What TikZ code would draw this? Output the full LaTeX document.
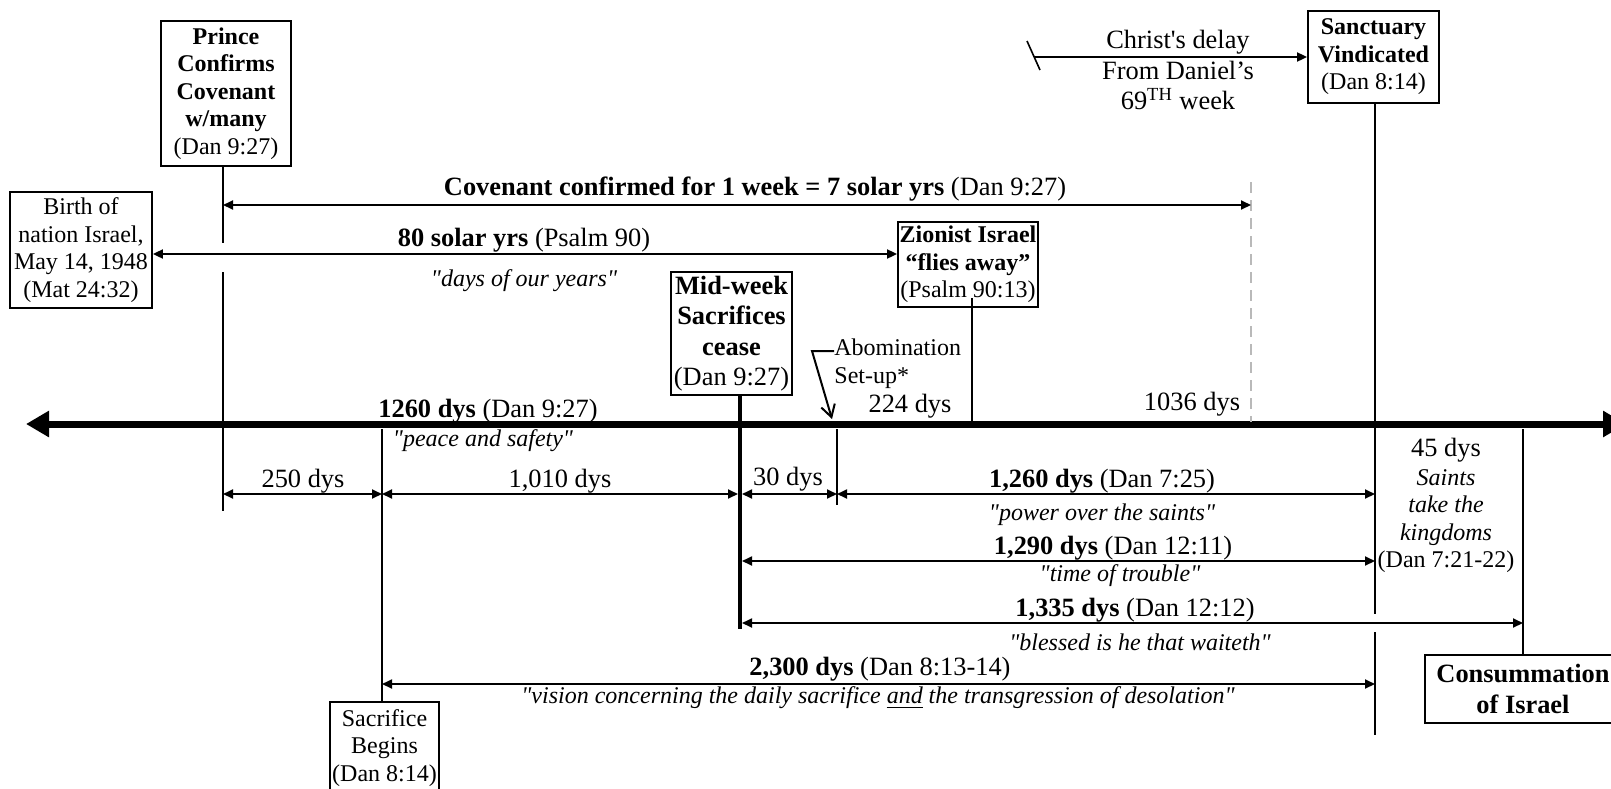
\documentclass[tikz,border=0pt]{standalone}
\usepackage{fontspec}
\setmainfont{Liberation Serif}
\newfontfamily\plainqf{Liberation Serif}
\usetikzlibrary{arrows.meta}
\newcommand{\myfa}{\fontsize{12}{13.8}\selectfont}
\newcommand{\myfb}{\fontsize{13.2}{15.2}\selectfont}
\newcommand{\dq}{{\plainqf"}}
\begin{document}
\begin{tikzpicture}[x=0.5pt,y=-0.5pt,
  txt/.style={inner sep=0pt, align=center, font=\myfb},
  stxt/.style={inner sep=0pt, align=center, font=\myfa},
  itxt/.style={inner sep=0pt, align=center, font=\myfa\itshape},
  box/.style={draw, line width=0.9pt, inner sep=0pt, align=center, font=\myfa},
  ln/.style={line width=0.8pt},
  dim/.style={line width=0.9pt, {Triangle[length=5pt,width=4.5pt]}-{Triangle[length=5pt,width=4.5pt]}},
  oneway/.style={line width=0.9pt, -{Triangle[length=5pt,width=4.5pt]}},
  axisline/.style={line width=3.5pt, {Triangle[length=11.5pt,width=12.5pt]}-{Triangle[length=11.5pt,width=12.5pt]}},
  gdash/.style={line width=0.8pt, gray!55, dash pattern=on 5.5pt off 3.5pt},
  thickv/.style={line width=2.2pt},
]
\useasboundingbox (0,0) rectangle (1611,788);

% boxes
\node[box, minimum width=65pt, minimum height=72.5pt] (prince) at (226,93.5)
  {\textbf{Prince}\\\textbf{Confirms}\\\textbf{Covenant}\\\textbf{w/many}\\(Dan 9:27)};
\node[box, minimum width=71pt, minimum height=58pt] (birth) at (81,250)
  {Birth of\\nation Israel,\\May 14, 1948\\(Mat 24:32)};
\node[box, minimum width=70pt, minimum height=42.5pt] (zion) at (968,264.5)
  {\textbf{Zionist Israel}\\\textbf{“flies away”}\\(Psalm 90:13)};
\node[box, font=\myfb, minimum width=60.5pt, minimum height=61.5pt] (mid) at (731.5,333.5)
  {\textbf{Mid-week}\\\textbf{Sacrifices}\\\textbf{cease}\\(Dan 9:27)};
\node[box, minimum width=65.5pt, minimum height=46pt] (sanc) at (1373.5,57)
  {\textbf{Sanctuary}\\\textbf{Vindicated}\\(Dan 8:14)};
\node[box, font=\myfb, minimum width=98pt, minimum height=34pt] (cons) at (1523,689)
  {\textbf{Consummation}\\\textbf{of Israel}};
\node[box, minimum width=54.5pt, minimum height=46pt] (sacb) at (384.5,748)
  {Sacrifice\\Begins\\(Dan 8:14)};

% key x positions
\coordinate (xP) at (223,0);
\coordinate (xS) at (382,0);
\coordinate (xM) at (740,0);
\coordinate (xA) at (837,0);
\coordinate (xZ) at (972,0);
\coordinate (xD) at (1251,0);
\coordinate (xV) at (1375,0);
\coordinate (xC) at (1523,0);

% main axis
\coordinate (axL) at (26,424);
\coordinate (axR) at (1626,424);
\draw[axisline] (axL) -- (axR);

% vertical lines
\coordinate (p1) at (223,243);
\coordinate (p2) at (223,272);
\coordinate (p3) at (223,511);
\draw[ln] (prince.south -| xP) -- (p1);
\draw[ln] (p2) -- (p3);
\coordinate (s1) at (382,429);
\draw[ln] (s1) -- (sacb.north -| xS);
\coordinate (m1) at (740,629);
\draw[thickv] (mid.south -| xM) -- (m1);
\coordinate (a1) at (837,429);
\coordinate (a2) at (837,505);
\draw[ln] (a1) -- (a2);
\coordinate (z1) at (972,298);
\coordinate (z2) at (972,422);
\draw[ln] (z1) -- (z2);
\coordinate (d1) at (1251,182);
\coordinate (d2) at (1251,422);
\draw[gdash] (d1) -- (d2);
\coordinate (v1) at (1375,614);
\coordinate (v2) at (1375,632);
\coordinate (v3) at (1375,735);
\draw[ln] (sanc.south -| xV) -- (v1);
\draw[ln] (v2) -- (v3);
\coordinate (c1) at (1523,429);
\draw[ln] (c1) -- (cons.north -| xC);

% upper arrows
\coordinate (covL) at (223,205);
\coordinate (covR) at (1251,205);
\draw[dim] (covL) -- (covR);
\node[txt] (covlab) at (755,189) {\textbf{Covenant confirmed for 1 week = 7 solar yrs} (Dan 9:27)};

\coordinate (y80) at (500,254);
\draw[dim] (birth.east |- y80) -- (zion.west |- y80);
\node[txt] (lab80) at (524,240) {\textbf{80 solar yrs} (Psalm 90)};
\node[itxt] (it80) at (524,281) {\dq days of our years\dq};

% Christ's delay
\coordinate (ct1) at (1027,41);
\coordinate (ct2) at (1040,70);
\coordinate (cst) at (1034,57);
\draw[ln] (ct1) -- (ct2);
\draw[oneway] (cst) -- (sanc.west |- cst);
\node[txt] (christ) at (1178,70) {Christ\textquotesingle s delay\\From Daniel’s\\69\textsuperscript{TH} week};

% abomination
\node[stxt, align=left, anchor=west] (abom) at (834,364) {Abomination\\Set-up*};
\coordinate (ab1) at (812,351);
\coordinate (ab2) at (832,419);
\draw[line width=1pt, -{Straight Barb[length=6pt,width=7pt]}] (abom.west |- ab1) -- (ab1) -- (ab2);

% labels on axis
\node[txt] (l224) at (910,406) {224 dys};
\node[txt] (l1036) at (1192,404) {1036 dys};
\node[txt] (l1260a) at (488,411) {\textbf{1260 dys} (Dan 9:27)};
\node[itxt] (peace) at (483,441) {\dq peace and safety\dq};

% row of day counts
\coordinate (r1) at (223,494);
\coordinate (r2) at (382,494);
\coordinate (r3) at (738,494);
\coordinate (r4) at (742,494);
\coordinate (r5) at (837,494);
\coordinate (r6) at (1375,494);
\draw[dim] (r1) -- (r2);
\draw[dim] (r2) -- (r3);
\draw[dim] (r4) -- (r5);
\draw[dim] (r5) -- (r6);
\node[txt] (l250) at (303,481) {250 dys};
\node[txt] (l1010) at (560,481) {1,010 dys};
\node[txt] (l30) at (788,479) {30 dys};
\node[txt] (l1260) at (1102,481) {\textbf{1,260 dys} (Dan 7:25)};
\node[itxt] (power) at (1102,515) {\dq power over the saints\dq};

\coordinate (t1) at (742,561);
\coordinate (t2) at (1375,561);
\draw[dim] (t1) -- (t2);
\node[txt] (l1290) at (1113,548) {\textbf{1,290 dys} (Dan 12:11)};
\node[itxt] (trouble) at (1120,576) {\dq time of trouble\dq};

\coordinate (b1) at (742,623);
\coordinate (b2) at (1523,623);
\draw[dim] (b1) -- (b2);
\node[txt] (l1335) at (1135,610) {\textbf{1,335 dys} (Dan 12:12)};
\node[itxt] (bless) at (1140,642) {\dq blessed is he that waiteth\dq};

\coordinate (w1) at (382,684);
\coordinate (w2) at (1375,684);
\draw[dim] (w1) -- (w2);
\node[txt] (l2300) at (880,669) {\textbf{2,300 dys} (Dan 8:13-14)};
\node[itxt] (vision) at (878,698) {\dq vision concerning the daily sacrifice \underline{and} the transgression of desolation\dq};

% 45 days
\node[txt] (l45) at (1446,450) {45 dys};
\node[stxt] (saints) at (1446,521) {\textit{Saints}\\\textit{take the}\\\textit{kingdoms}\\(Dan 7:21-22)};
\end{tikzpicture}
\end{document}
